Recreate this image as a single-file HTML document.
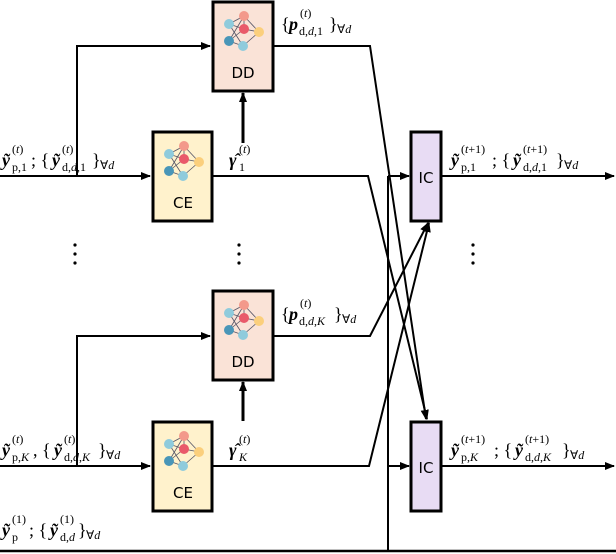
<!DOCTYPE html>
<html><head><style>body{margin:0;background:#fff}svg{display:block}</style></head><body>
<svg width="616" height="554" viewBox="0 0 616 554" xmlns="http://www.w3.org/2000/svg" font-family="Liberation Serif, serif">
<defs>
<marker id="a" markerWidth="10" markerHeight="8" refX="9" refY="4" orient="auto" markerUnits="userSpaceOnUse"><path d="M0,0 L10,4 L0,8 Z" fill="#000"/></marker>
<g id="nn">
<g stroke="#556" stroke-width="0.8"><line x1="0" y1="0" x2="15" y2="-8"/><line x1="0" y1="0" x2="15" y2="5"/><line x1="0" y1="0" x2="14" y2="22"/><line x1="0" y1="17" x2="15" y2="-8"/><line x1="0" y1="17" x2="15" y2="5"/><line x1="0" y1="17" x2="14" y2="22"/><line x1="15" y1="-8" x2="30" y2="8"/><line x1="15" y1="5" x2="30" y2="8"/><line x1="14" y1="22" x2="30" y2="8"/><line x1="15" y1="-8" x2="15" y2="5"/></g>
<circle cx="0" cy="0" r="5" fill="#8fcbdc"/><circle cx="15" cy="-8" r="5" fill="#f3998b"/><circle cx="15" cy="5" r="5" fill="#e95a6a"/><circle cx="30" cy="8" r="5" fill="#fbcf7c"/><circle cx="0" cy="17" r="5" fill="#4996b8"/><circle cx="14" cy="22" r="5" fill="#8fcbdc"/>
</g>
</defs>
<g fill="none" stroke="#000" stroke-width="2">
<polyline points="77,176 77,46 210,46" marker-end="url(#a)"/>
<line x1="0" y1="176" x2="150" y2="176" marker-end="url(#a)"/>
<polyline points="0,466 150,466" marker-end="url(#a)"/>
<polyline points="77,466 77,336 210,336" marker-end="url(#a)"/>
<line x1="243" y1="143" x2="243" y2="93" stroke-width="3" marker-end="url(#a)"/>
<line x1="243" y1="421" x2="243" y2="382" stroke-width="3" marker-end="url(#a)"/>
<polyline points="273,46 370,46 426,419" marker-end="url(#a)"/>
<polyline points="212,176 368,176 427,419" marker-end="url(#a)"/>
<polyline points="273,336 370,336 428,223" marker-end="url(#a)"/>
<polyline points="212,466 369,466 429,223" marker-end="url(#a)"/>
<line x1="388" y1="176" x2="388" y2="552"/>
<line x1="0" y1="551" x2="616" y2="551" stroke-width="2.5"/>
<line x1="388" y1="176" x2="409" y2="176" marker-end="url(#a)"/>
<line x1="388" y1="466" x2="409" y2="466" marker-end="url(#a)"/>
<line x1="442" y1="176" x2="614" y2="176" marker-end="url(#a)"/>
<line x1="442" y1="466" x2="614" y2="466" marker-end="url(#a)"/>
</g>
<g stroke="#000" stroke-width="3">
<rect x="213" y="2" width="60" height="89" fill="#fae3d7"/>
<rect x="153" y="132" width="59" height="89" fill="#fff2cc"/>
<rect x="213" y="291" width="60" height="89" fill="#fae3d7"/>
<rect x="153" y="422" width="59" height="89" fill="#fff2cc"/>
<rect x="411" y="132" width="30" height="89" fill="#e8dcf4"/>
<rect x="411" y="422" width="30" height="89" fill="#e8dcf4"/>
</g>
<use href="#nn" x="229" y="24"/><use href="#nn" x="169" y="154"/><use href="#nn" x="229" y="313"/><use href="#nn" x="169" y="444"/>
<g font-family="DejaVu Sans, sans-serif" font-size="15" text-anchor="middle">
<text x="243" y="78">DD</text><text x="183" y="208">CE</text><text x="243" y="367">DD</text><text x="183" y="498">CE</text>
<text x="426" y="183">IC</text><text x="426" y="473">IC</text>
</g>
<g font-size="18">
<text x="2" y="166" font-style="italic" font-weight="bold">ỹ</text>
<text x="12" y="171" font-size="12">p,1</text><text x="12" y="153" font-size="12">(<tspan font-style="italic">t</tspan>)</text>
<text x="31" y="166">; {</text>
<text x="52" y="166" font-style="italic" font-weight="bold">ỹ</text>
<text x="62" y="171" font-size="12">d,<tspan font-style="italic">d</tspan>,1</text><text x="62" y="153" font-size="12">(<tspan font-style="italic">t</tspan>)</text>
<text x="92" y="166">}</text><text x="100" y="169" font-size="12">∀<tspan font-style="italic">d</tspan></text>

<text x="2" y="456" font-style="italic" font-weight="bold">ỹ</text>
<text x="12" y="461" font-size="12">p,<tspan font-style="italic">K</tspan></text><text x="12" y="443" font-size="12">(<tspan font-style="italic">t</tspan>)</text>
<text x="33" y="456">, {</text>
<text x="54" y="456" font-style="italic" font-weight="bold">ỹ</text>
<text x="64" y="461" font-size="12">d,<tspan font-style="italic">d</tspan>,<tspan font-style="italic">K</tspan></text><text x="64" y="443" font-size="12">(<tspan font-style="italic">t</tspan>)</text>
<text x="98" y="456">}</text><text x="106" y="459" font-size="12">∀<tspan font-style="italic">d</tspan></text>

<text x="2" y="536" font-style="italic" font-weight="bold">ỹ</text>
<text x="12" y="541" font-size="12">p</text><text x="12" y="523" font-size="12">(1)</text>
<text x="29" y="536">; {</text>
<text x="50" y="536" font-style="italic" font-weight="bold">ỹ</text>
<text x="60" y="541" font-size="12">d,<tspan font-style="italic">d</tspan></text><text x="60" y="523" font-size="12">(1)</text>
<text x="78" y="536">}</text><text x="86" y="539" font-size="12">∀<tspan font-style="italic">d</tspan></text>

<text x="281" y="30">{</text><text x="289" y="30" font-style="italic" font-weight="bold">p</text>
<text x="299" y="35" font-size="12">d,<tspan font-style="italic">d</tspan>,1</text><text x="300" y="17" font-size="12">(<tspan font-style="italic">t</tspan>)</text>
<text x="329" y="30">}</text><text x="337" y="33" font-size="12">∀<tspan font-style="italic">d</tspan></text>
<text x="281" y="320">{</text><text x="289" y="320" font-style="italic" font-weight="bold">p</text>
<text x="299" y="325" font-size="12">d,<tspan font-style="italic">d</tspan>,<tspan font-style="italic">K</tspan></text><text x="300" y="307" font-size="12">(<tspan font-style="italic">t</tspan>)</text>
<text x="334" y="320">}</text><text x="342" y="323" font-size="12">∀<tspan font-style="italic">d</tspan></text>

<text x="229" y="166" font-style="italic" font-weight="bold">γ̂</text><text x="239" y="171" font-size="12">1</text><text x="239" y="153" font-size="12">(<tspan font-style="italic">t</tspan>)</text>
<text x="229" y="456" font-style="italic" font-weight="bold">γ̂</text><text x="239" y="461" font-size="12" font-style="italic">K</text><text x="239" y="443" font-size="12">(<tspan font-style="italic">t</tspan>)</text>

<text x="451" y="166" font-style="italic" font-weight="bold">ỹ</text>
<text x="461" y="171" font-size="12">p,1</text><text x="461" y="153" font-size="12">(<tspan font-style="italic">t</tspan>+1)</text>
<text x="492" y="166">; {</text>
<text x="513" y="166" font-style="italic" font-weight="bold">ỹ</text>
<text x="523" y="171" font-size="12">d,<tspan font-style="italic">d</tspan>,1</text><text x="523" y="153" font-size="12">(<tspan font-style="italic">t</tspan>+1)</text>
<text x="556" y="166">}</text><text x="564" y="169" font-size="12">∀<tspan font-style="italic">d</tspan></text>
<text x="451" y="456" font-style="italic" font-weight="bold">ỹ</text>
<text x="461" y="461" font-size="12">p,<tspan font-style="italic">K</tspan></text><text x="461" y="443" font-size="12">(<tspan font-style="italic">t</tspan>+1)</text>
<text x="494" y="456">; {</text>
<text x="515" y="456" font-style="italic" font-weight="bold">ỹ</text>
<text x="525" y="461" font-size="12">d,<tspan font-style="italic">d</tspan>,<tspan font-style="italic">K</tspan></text><text x="525" y="443" font-size="12">(<tspan font-style="italic">t</tspan>+1)</text>
<text x="562" y="456">}</text><text x="570" y="459" font-size="12">∀<tspan font-style="italic">d</tspan></text>
</g>
<g fill="#000">
<circle cx="75" cy="245" r="1.6"/><circle cx="75" cy="254" r="1.6"/><circle cx="75" cy="263" r="1.6"/>
<circle cx="239" cy="245" r="1.6"/><circle cx="239" cy="254" r="1.6"/><circle cx="239" cy="263" r="1.6"/>
<circle cx="473" cy="245" r="1.6"/><circle cx="473" cy="254" r="1.6"/><circle cx="473" cy="263" r="1.6"/>
</g>
</svg>
</body></html>
